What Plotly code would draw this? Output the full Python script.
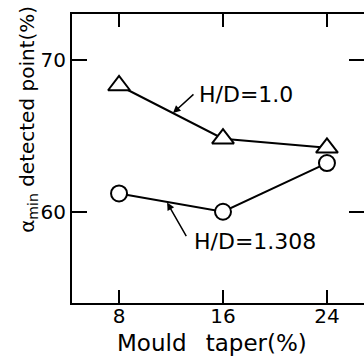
import plotly.graph_objects as go

# Data
taper = [8, 16, 24]
hd_10 = [68.3, 64.8, 64.2]      # H/D = 1.0 (triangles)
hd_1308 = [61.2, 60.0, 63.2]    # H/D = 1.308 (circles)
x_ticks = [8, 16, 24]
y_ticks = [60, 70]

FONT = "DejaVu Sans"
W, H = 364, 356

fig = go.Figure()
fig.add_trace(go.Scatter(
    x=taper, y=hd_10, mode="lines+markers",
    line=dict(color="black", width=2),
    marker=dict(symbol="triangle-up", size=19, color="white",
                line=dict(color="black", width=2)),
    showlegend=False))
fig.add_trace(go.Scatter(
    x=taper, y=hd_1308, mode="lines+markers",
    line=dict(color="black", width=2),
    marker=dict(symbol="circle", size=16, color="white",
                line=dict(color="black", width=2)),
    showlegend=False))

axis_common = dict(showline=True, linecolor="black", linewidth=2,
                   mirror="ticks", ticks="inside", tickwidth=2,
                   tickcolor="black", showgrid=False, zeroline=False,
                   tickfont=dict(family=FONT, size=20, color="black"))

fig.update_xaxes(range=[4.38, 26.85], tickvals=x_ticks, ticklen=13,
                 ticklabelstandoff=-6, **axis_common)
fig.update_yaxes(range=[54, 73], tickvals=y_ticks, ticklen=15,
                 **axis_common)

# Labels with arrows
fig.add_annotation(x=12.15, y=66.49, text="", showarrow=True,
                   ax=22, ay=-20, arrowhead=2, arrowsize=1,
                   arrowwidth=1.5, arrowcolor="black")
fig.add_annotation(x=14.0, y=67.74, text="H/D=1.0", showarrow=False,
                   xanchor="left", yanchor="middle",
                   font=dict(family=FONT, size=22, color="black"))
fig.add_annotation(x=11.7, y=60.6, text="", showarrow=True,
                   ax=20, ay=35, arrowhead=2, arrowsize=1,
                   arrowwidth=1.5, arrowcolor="black")
fig.add_annotation(x=13.6, y=58.07, text="H/D=1.308", showarrow=False,
                   xanchor="left", yanchor="middle",
                   font=dict(family=FONT, size=22, color="black"))

# Axis titles
fig.add_annotation(xref="paper", yref="paper", x=-0.151, y=0.637,
                   text="α<sub>min</sub> detected point(%)", textangle=-90,
                   showarrow=False, xanchor="center", yanchor="middle",
                   font=dict(family=FONT, size=20, color="black"))
fig.add_annotation(xref="paper", yref="paper", x=0.479, y=-0.137,
                   text="Mould\u00a0\u00a0\u2009taper(%)", showarrow=False,
                   xanchor="center", yanchor="middle",
                   font=dict(family=FONT, size=23, color="black"))

fig.update_layout(width=W, height=H,
                  margin=dict(l=72, r=0, t=14, b=53, autoexpand=False),
                  plot_bgcolor="white", paper_bgcolor="white")

fig.write_html("out.html", config={"displayModeBar": False},
               post_script="document.body.style.margin='0';"
                           "document.body.style.overflow='hidden';")
